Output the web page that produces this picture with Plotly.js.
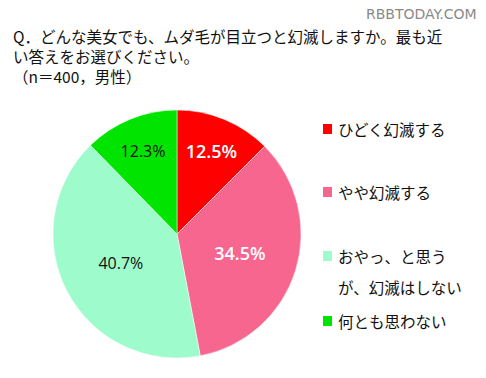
<!DOCTYPE html>
<html><head><meta charset="utf-8">
<script src="https://cdn.plot.ly/plotly-3.0.1.min.js"></script>
<style>html,body{margin:0;padding:0;background:#fff}#c{width:486px;height:378px}</style>
</head><body><div id="c"></div>
<script>
const labels = ["ひどく幻滅する", "やや幻滅する", "おやっ、と思う<br>が、幻滅はしない", "何とも思わない"];
const values = [12.5, 34.5, 40.7, 12.3];
const colors = ["#ff0000", "#f7668f", "#9dfbcc", "#00e400"];
const textColors = ["#ffffff", "#ffffff", "#111111", "#111111"];
const textSizes = [18, 18, 16, 16];
const titleLines = ["Q．どんな美女でも、ムダ毛が目立つと幻滅しますか。最も近", "い答えをお選びください。", "（n＝400，男性）"];

const font = "Noto Sans CJK JP, sans-serif";
const annotations = [];
annotations.push({
  text: titleLines.join("<br>"), xref: "paper", yref: "paper", x: 11/486, y: 1 - 23/378,
  xanchor: "left", yanchor: "top", align: "left", showarrow: false,
  font: {family: font, size: 15.5, color: "#111"}
});
annotations.push({
  text: "RBBTODAY.COM", xref: "paper", yref: "paper", x: 479/486, y: 1 - 14/378,
  xanchor: "right", yanchor: "middle", showarrow: false,
  font: {family: "DejaVu Sans, sans-serif", size: 14, color: "#8a8a8a"}
});
const legY = [129, 192, 256, 321];
const shapes = [];
labels.forEach((l, i) => {
  l.split("<br>").forEach((part, j) => {
    annotations.push({
      text: part, xref: "paper", yref: "paper", x: 336/486, y: 1 - (legY[i] + 31*j)/378,
      xanchor: "left", yanchor: "middle", showarrow: false,
      font: {family: font, size: 15.5, color: "#111"}
    });
  });
  shapes.push({
    type: "rect", xref: "paper", yref: "paper",
    x0: 323/486, x1: 332/486, y0: 1 - (legY[i]+5)/378, y1: 1 - (legY[i]-5)/378,
    fillcolor: colors[i], line: {width: 0}
  });
});

const trace = {
  type: "pie", labels: labels, values: values, sort: false,
  direction: "clockwise", rotation: 0,
  marker: {colors: colors, line: {color: "#ffffff", width: 0.5}},
  texttemplate: "%{value:.1f}%", textposition: "inside",
  insidetextorientation: "horizontal",
  textfont: {family: "Open Sans, sans-serif", size: textSizes, color: textColors, weight: [600, 600, 400, 400]},
  domain: {x: [53/486, 301/486], y: [20/378, 268/378]},
  showlegend: false, hoverinfo: "none"
};
Plotly.newPlot("c", [trace], {
  width: 486, height: 378, margin: {l: 0, r: 0, t: 0, b: 0},
  paper_bgcolor: "#fff", plot_bgcolor: "#fff",
  annotations: annotations, shapes: shapes, showlegend: false
}, {displayModeBar: false, staticPlot: true});
</script></body></html>
